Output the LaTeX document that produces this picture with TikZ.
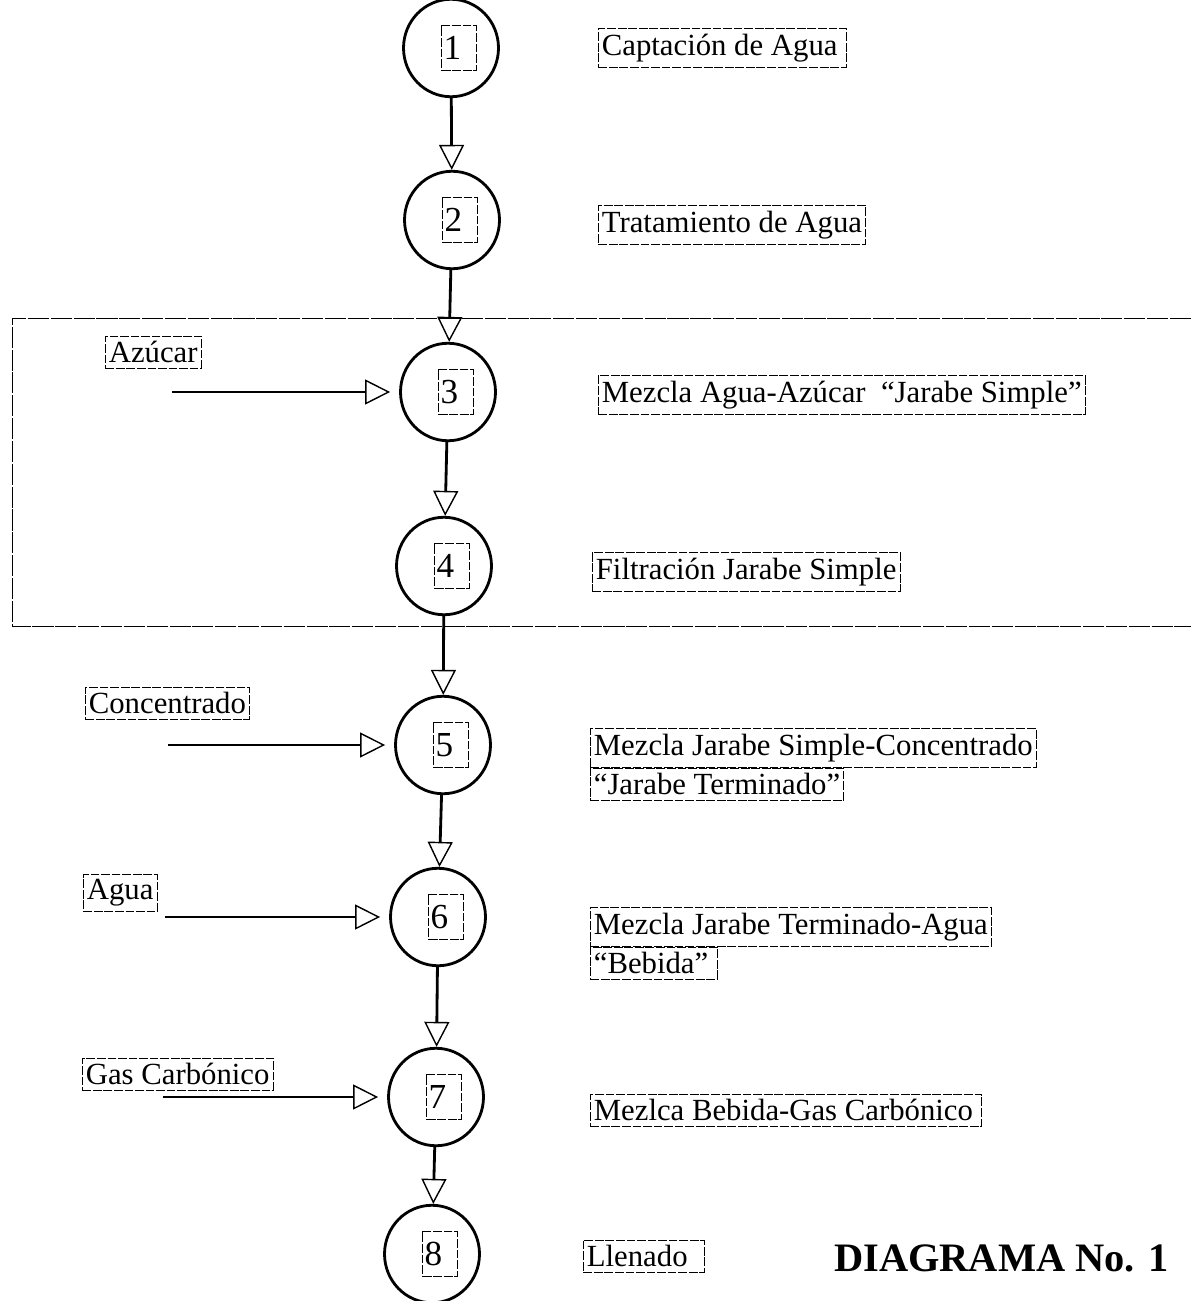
\documentclass[tikz,border=0pt]{standalone}
\usepackage{fontspec}
\setmainfont{Liberation Serif}
\usetikzlibrary{arrows.meta,positioning,shapes.geometric}

\begin{document}
\begin{tikzpicture}[
    x=0.02cm, y=-0.02cm,
    oper/.style={draw, ellipse, line width=1.6pt, minimum width=1.9cm, minimum height=1.95cm, inner sep=0pt},
    num/.style={draw, line width=0.4pt, dash pattern=on 5pt off 1pt, text width=0.62cm, minimum height=0.9cm, inner xsep=1pt, inner ysep=2pt, align=left, font=\fontsize{20}{20}\selectfont},
    lbl/.style={draw, line width=0.4pt, dash pattern=on 5pt off 1pt, inner xsep=2pt, inner ysep=3pt, anchor=west, font=\fontsize{17.5}{20}\selectfont},
    arr/.style={-{Triangle[open, length=0.5cm, width=0.5cm, line width=0.8pt]}, line width=1.6pt},
    frame/.style={line width=0.5pt, dash pattern=on 12pt off 1pt}
]
    \useasboundingbox (0,0) rectangle (1191,1301);

    % operaciones
    \node[oper] (op1) at (451,48) {};
    \node[oper] (op2) at (452,220) {};
    \node[oper] (op3) at (448,392) {};
    \node[oper] (op4) at (444,566) {};
    \node[oper] (op5) at (443,745) {};
    \node[oper] (op6) at (438,917) {};
    \node[oper] (op7) at (436,1097) {};
    \node[oper] (op8) at (432,1254) {};

    \node[num] (n1) at ([xshift=0.16cm]op1) {1};
    \node[num] (n2) at ([xshift=0.16cm]op2) {2};
    \node[num] (n3) at ([xshift=0.16cm]op3) {3};
    \node[num] (n4) at ([xshift=0.16cm]op4) {4};
    \node[num] (n5) at ([xshift=0.16cm]op5) {5};
    \node[num] (n6) at ([xshift=0.16cm]op6) {6};
    \node[num] (n7) at ([xshift=0.16cm]op7) {7};
    \node[num] (n8) at ([xshift=0.16cm]op8) {8};

    \draw[arr] (op1) -- (op2);
    \draw[arr] (op2) -- (op3);
    \draw[arr] (op3) -- (op4);
    \draw[arr] (op4) -- (op5);
    \draw[arr] (op5) -- (op6);
    \draw[arr] (op6) -- (op7);
    \draw[arr] (op7) -- (op8);

    % descripcion
    \node[lbl] (captacion) at (598,48) {Captación de Agua\,};
    \node[lbl] (tratamiento) at (598,225) {Tratamiento de Agua};
    \node[lbl] (mezcla3) at (598,395) {Mezcla Agua-Azúcar\ \ “Jarabe Simple”};
    \node[lbl] (filtracion) at (592,572) {Filtración Jarabe Simple};
    \node[lbl] (mezcla5) at (590,748) {Mezcla Jarabe Simple-Concentrado};
    \node[lbl, anchor=north west] (jarabe5) at (mezcla5.south west) {“Jarabe Terminado”};
    \node[lbl] (mezcla6) at (590,927) {Mezcla Jarabe Terminado-Agua};
    \node[lbl, anchor=north west] (bebida6) at (mezcla6.south west) {“Bebida”\,};
    \node[lbl] (mezcla7) at (590,1110) {Mezlca Bebida-Gas Carbónico\,};
    \node[lbl] (llenado) at (583,1256) {Llenado\ \,};
    \node[anchor=west, font=\fontsize{23}{25}\selectfont\bfseries] (diagrama) at (828,1258) {DIAGRAMA No. 1};

    % entradas
    \node[lbl] (azucar) at (105,352) {Azúcar\ };
    \node[lbl] (concentrado) at (85,703) {Concentrado\ };
    \node[lbl] (agua) at (83,893) {Agua\ };
    \node[lbl] (gas) at (82,1074) {Gas Carbónico};

    \coordinate (azucarin) at (172,392);
    \coordinate (concentradoin) at (168,745);
    \coordinate (aguain) at (165,917);
    \coordinate (gasin) at (163,1097);

    \draw[arr, shorten >=0.18cm] (azucarin) -- (op3);
    \draw[arr, shorten >=0.18cm] (concentradoin) -- (op5);
    \draw[arr, shorten >=0.18cm] (aguain) -- (op6);
    \draw[arr, shorten >=0.18cm] (gasin) -- (op7);

    % zona jarabe simple
    \draw[frame] (1191,318) -- (12,318) -- (12,626) -- (1191,626);
\end{tikzpicture}
\end{document}
